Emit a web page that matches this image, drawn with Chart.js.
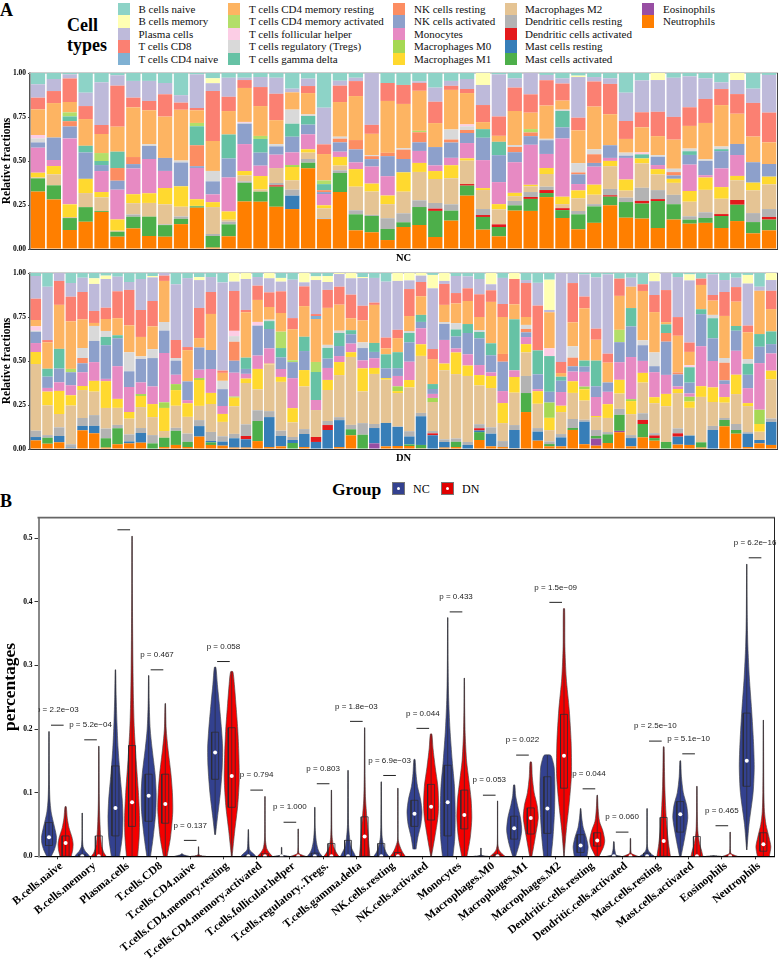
<!DOCTYPE html>
<html>
<head>
<meta charset="utf-8">
<script src="https://cdn.jsdelivr.net/npm/chart.js@4"></script>
<style>
body { margin: 0; background: #fff; width: 780px; height: 963px; position: relative; overflow: hidden; font-family: "Liberation Serif", serif; color: #000; }
canvas { position: absolute; left: 0; }
.txt { position: absolute; white-space: nowrap; line-height: 1; }
.sw { position: absolute; width: 12px; height: 12.6px; }
.key { position: absolute; width: 11px; height: 11px; border: 1px solid #777; top: 482px; }
.key i { position: absolute; left: 4px; top: 4px; width: 3px; height: 3px; border-radius: 50%; background: #fff; }
</style>
</head>
<body>
<div class="txt" style="left:0;top:1px;font-size:18px;font-weight:bold">A</div>
<div class="txt" style="left:67px;top:16px;font-size:18px;font-weight:bold">Cell</div>
<div class="txt" style="left:67px;top:36px;font-size:18px;font-weight:bold">types</div>
<div id="legendA"></div>
<canvas id="chartNC" width="780" height="200" style="top:65px"></canvas>
<canvas id="chartDN" width="780" height="200" style="top:265px"></canvas>
<div class="txt" style="left:0;top:492px;font-size:18px;font-weight:bold">B</div>
<div class="txt" style="left:332px;top:481px;font-size:17.5px;font-weight:bold">Group</div>
<div class="key" style="left:392px;background:#33418f"><i></i></div>
<div class="txt" style="left:413px;top:483px;font-size:12px">NC</div>
<div class="key" style="left:441px;background:#e00000"><i></i></div>
<div class="txt" style="left:462px;top:483px;font-size:12px">DN</div>
<canvas id="chartViolin" width="780" height="458" style="top:505px"></canvas>
<script>
'use strict';
// ---- panel A: legend order, top of the stack first
const cellTypes = ['B cells naive', 'B cells memory', 'Plasma cells', 'T cells CD8', 'T cells CD4 naive',
    'T cells CD4 memory resting', 'T cells CD4 memory activated', 'T cells follicular helper', 'T cells regulatory (Tregs)', 'T cells gamma delta',
    'NK cells resting', 'NK cells activated', 'Monocytes', 'Macrophages M0', 'Macrophages M1',
    'Macrophages M2', 'Dendritic cells resting', 'Dendritic cells activated', 'Mast cells resting', 'Mast cells activated',
    'Eosinophils', 'Neutrophils'];
const cellColours = ['#8dd3c7', '#ffffb3', '#bebada', '#fb8072', '#80b1d3',
    '#fdb462', '#b3de69', '#fccde5', '#d9d9d9', '#66c2a5',
    '#fc8d62', '#8da0cb', '#e78ac3', '#a6d854', '#ffd92f',
    '#e5c494', '#b3b3b3', '#e41a1c', '#377eb8', '#4daf4a',
    '#984ea3', '#ff7f00'];
const fractionTicks = [0, 0.25, 0.5, 0.75, 1];

// NC samples, percent of each bar
const ncNaive = [6.4,3.4,.8,11.2,5.3,1.3,4.5,4.5,5.7,12.5, .8,3,2.7,2.7,2.3,2.7,8.9,3.2,19.7,4.4, 2.7,0,5.7,6.8,4.7,8.3,4.5,3.4,0,.8, 3,0,1.1,3,1.5,2.3,3,11.2,4.2,0, 2.7,1.9,3,5.3,0,8.9,1.1];
const ncMemoryB = [0,0,0,0,0,0,0,0,0,0, 0,2.8,0,0,0,0,0,0,0,0, 0,0,0,0,0,0,0,0,6.8,0, 0,0,0,0,.8,0,0,0,0,4, 0,0,0,0,4,0,0];
const ncPlasma = [7.6,6.8,2.3,7.6,24.2,5.9,9.5,11.4,6.4,4.2, 19.1,4.4,10.8,1.3,5.7,9.1,2.1,4.2,20.8,2.8, 1.9,29.5,0,0,.9,8,2.8,5.7,11.4,23.9, 5.3,12.1,3,3,23.1,2.5,3.2,16.1,18,18, 22.2,17.6,11.7,3.8,8,8.1,21.4];
const ncCd8 = [6.6,6.8,13.4,7.4,5.1,23.3,5.5,5.3,12.7,4, 1.3,28.4,8.1,4.5,10.8,15,0,4,5.5,9.3, 8.5,5.1,10.2,10.8,4.5,12.1,2.3,2.3,9.7,11, 13.3,10.4,14.4,9.7,7.2,14.2,17.2,10.2,8.5,13.8, 12.9,10.6,13.6,9.1,11.2,19.1,16.9];
const ncCd4Naive = [0,0,0,0,0,0,0,0,0,0, 0,0,0,0,0,0,0,0,0,0, 0,0,0,0,0,0,0,0,0,0, 0,0,0,0,0,0,0,0,0,0, 0,0,0,0,0,0,0];
const ncCd4Resting = [14.6,19.5,5.9,15.2,10.8,14.2,28.2,19.3,23.5,28.6, 7.2,17,13.3,19.3,17,13.6,9.8,12.1,15,19.7, 25,12.1,29.5,25.2,22.7,13.6,22.5,17.8,4,3.4, 19.3,9.3,18.9,5.1,18.6,24.2,17.6,7.8,14.2,10.8, 16.5,12.9,20.6,23.5,17.2,14.6,12.3];
const ncCd4Activated = [0,0,2.3,0,4.5,0,0,0,0,0, 1.9,0,0,0,1.7,0,0,0,2.1,0, 0,0,0,0,.8,0,0,0,0,0, 0,1.9,0,0,0,0,0,0,0,0, 0,0,0,0,0,0,0];
const ncFollicular = [1.9,0,0,0,0,0,0,0,0,0, 0,0,0,.5,0,0,0,0,0,0, 0,0,0,0,0,0,0,1.1,0,0, 0,0,0,0,0,0,0,0,1.1,0, 0,0,0,0,0,0,0];
const ncTregs = [2.3,0,0,0,0,0,0,1,0,1.1, 0,5.9,0,.5,0,1.3,8,.9,0,1.1, 0,.6,0,.8,0,0,5.7,2.1,0,0, 1.1,0,.8,.8,5.3,2.8,0,1.7,0,.9, 1.9,1.5,.9,1.5,0,0,0];
const ncGamma = [0,0,2.7,3.8,2.3,9.3,0,0,0,0, 10.8,0,13.6,0,7.8,0,7.4,4.9,3.4,0, 0,0,0,0,0,0,0,0,4.9,7.6, 0,0,0,9.3,0,0,0,0,2.3,0, 0,2.1,0,1.1,0,0,0];
const ncNkResting = [0,0,3,0,0,7.2,4,0,0,0, 11.9,0,0,0,0,0,0,0,1.1,2.1, 5.3,1.7,1.9,5.3,5.7,0,1.7,1.7,0,0, 3,2.1,0,0,1.1,4.9,0,0,0,0, 1.9,0,0,0,0,0,0];
const ncNkActivated = [3,12.7,6.8,15,3.4,5.1,2.5,7.4,7.4,13.4, 1,7.4,10.8,11.6,7.4,4.7,8.9,5.5,1.1,5.3, 7.4,4.2,11.4,7.6,4.9,10.4,8.7,5.7,12.7,15.3, 5.7,4.9,7.8,6.3,5.5,2.1,7.2,1.3,0,4.7, 1.9,5.5,8.1,9.8,6.3,11.6,7.2];
const ncMonocytes = [14.2,3.4,37.5,0,11.9,16.9,14.6,19.5,9.7,0, 17.8,4.4,19.3,15.3,5.9,7.6,7.2,8.5,6.4,3, 3.8,9.7,11,0,6.8,3.2,4.2,8.7,15.9,12.5, 17.4,22.7,8,33.1,3.6,10.2,1.7,12.3,0,2.3, 0,15,1.3,10.6,11.9,0,0];
const ncM0 = [0,0,0,0,0,0,0,0,0,0, 0,0,0,0,0,0,1.1,0,0,0, 0,0,0,0,0,0,0,0,0,0, 0,0,0,0,0,0,0,0,0,0, 0,0,0,0,0,0,0];
const ncM1 = [2.7,4.7,7.2,8.1,3,6.4,5.1,5.5,9.3,11.5, 3.8,2.8,4.7,2.5,7.6,0,7.6,1.9,1.7,4.9, 10,4.5,4.9,11,5.1,4.5,7.4,1.3,1.1,3, 1.9,.9,3.4,4.2,4.5,5.7,3,6.3,2.8,3, 2.3,6.1,7,6.6,2.5,4.4,4.4];
const ncM2 = [.5,6.2,.6,8,7.8,.6,6.4,7.8,11.4,5.5, .2,15.3,1.1,3.4,1.3,8.5,5.3,3.6,5.7,2.7, 13.4,13.3,8,12.3,16.1,13.6,14.8,13.3,10.8,8.5, 2.7,3.2,7.2,2.3,7.2,5.3,12.9,4,13.8,8.9, 6.8,8.3,12.7,8.7,11.2,12.9,14];
const ncDcResting = [0,0,0,0,0,0,1.3,0,.4,1.3, 0,1.1,1.5,.8,0,1.3,3.4,2.1,.4,1.5, 2.3,.6,6.1,5.1,3.8,3.2,3.6,0,3.4,0, 2.5,2.8,1.9,0,1.9,1.3,3.6,2.5,7.4,5.1, 5.3,1.9,3.2,0,0,5.1,4.5];
const ncDcActivated = [0,0,0,0,0,0,0,0,0,0, 0,0,0,0,0,.8,0,0,0,0, 0,0,0,0,0,1.3,0,.9,1.1,1.5, 0,1.1,1.7,1.1,0,0,.8,0,1.5,1.1, 0,0,0,1.1,2.7,0,1.5];
const ncMastResting = [0,0,0,0,0,0,0,0,0,0, 0,0,0,0,0,0,7.6,0,0,0, 0,0,0,0,0,0,0,0,0,0, 0,0,0,0,0,0,0,0,0,0, 0,0,0,0,0,0,0];
const ncMastActivated = [7.5,8,6.8,8.3,.5,2.8,6.6,11,6.6,3, .8,6.6,6.8,10.6,5.7,11.4,0,3.2,0,10.8, 9.1,9.3,6.3,2.7,10.2,14.8,5.7,5.7,7.2,5.3, 3,6.8,2.3,4.5,8.5,9.3,4.9,8.9,8.5,15.3, 8.7,2.3,2.8,6.8,9.3,6.4,6.1];
const ncEosinophils = [0,0,0,0,0,0,0,0,0,0, 0,0,0,0,0,0,0,0,0,0, 0,0,0,0,0,0,0,0,0,0, 0,0,0,0,0,0,0,0,0,0, 0,0,0,0,0,0,0];
const ncNeutrophils = [32.6,28,10.8,15.5,21,7,11.7,7.4,7,14, 23.5,.8,7.2,27,26.9,24,22.7,45.8,17,32.4, 10.6,9.5,5.1,12.5,13.6,6.8,16.1,30.3,11,7.2, 21.8,21.6,29.5,17.6,11.2,14.8,24.8,17.8,17.2,11.9, 16.7,14.4,14.8,11.9,15.9,8.9,10.6];

// DN samples, percent of each bar
const dnNaive = [1.7,7.8,0,5.7,2.7,3,1.5,2.1,5.1,3.4, 1.7,0,6.4,2.8,2.3,2.3,5.3,0,0,2.3, 0,2.8,3.8,0,1.9,1.7,0,0,2.3,2.8, 4.9,0,0,0,1.1,0,1.7,1.9,3.4,0, 2.8,0,4,5.3,3.8,0,0,.8,2.5,.8, 3.2,2.7,6.4,0,0,2.3,.8,3.2,.8,4, 2.7,1.1,7.8,0];
const dnMemoryB = [0,0,0,0,0,3.2,1.9,0,0,0, .8,0,0,0,1.7,0,0,4.9,3.4,0, 3,2.1,0,5.3,2.1,3.4,.6,3,.6,0, 0,4.5,4.2,1.5,7.6,4.5,0,0,0,6.4, 0,3.4,0,0,17.2,0,0,0,0,0, 0,0,0,4.7,0,0,3.4,0,0,0, 0,4.9,0,4];
const dnPlasma = [12.9,30.3,4.5,7.8,8.1,15.3,16.3,8.3,4.5,17.6, 13.4,1.5,31.6,37.5,15.7,8.5,49.8,5.3,17.6,4.9, 8,5.5,21.8,2.3,19.3,4.5,7.2,9.3,15.7,14, 31.8,27.8,4.9,3.6,34.5,1.7,9.7,6.8,8.7,3.4, 14.8,0,1.7,12.3,1.3,50.6,5.7,12.5,29.2,44.9, 0,5.1,0,7.8,9.7,22.7,35.2,0,11.7,6.8, 5.3,23.9,2.3,6.1];
const dnCd8 = [12.1,1.3,13.6,14,15.5,6.8,6.4,15.3,20.1,15.3, 14.4,3,10.2,1.7,17,12.5,1.3,22.7,1.3,8.1, 8.3,12.3,6.3,11.2,1.1,10.2,10.2,13.4,8.3,1.3, 6.1,4.7,15.3,8.1,5.7,11.9,5.9,7.2,12.9,6.6, 7.4,14.4,19.3,24.2,0,6.3,22.3,6.6,6.3,5.1, 9.8,0,3.8,9.7,18.2,10.6,5.3,3.6,3.2,13.6, 8.3,3.8,0,10.4];
const dnCd4Naive = [0,0,0,0,0,0,0,0,0,0, 0,0,0,0,0,0,0,0,0,0, 0,0,0,0,1.7,0,0,0,0,0, 0,0,0,0,0,0,0,0,0,0, 0,0,0,0,0,0,0,0,0,0, 0,0,0,0,0,0,0,0,0,0, 0,0,0,0];
const dnCd4Resting = [3.6,15,25,27.1,16.3,1.7,6.8,9.7,15.3,11, 12.9,23.3,0,17,5.3,20.5,4.5,0,25.8,12.5, 7.2,10.6,17.6,17.4,24.4,21,14.8,6.8,12.5,21.6, 3.4,8,8.5,10.6,14.2,9.7,11.2,13.1,7.4,23.5, 21,8.5,4.5,0,20.5,2.1,13.6,29.5,11.9,11.2, 19.3,12.1,28,22.9,1.3,20.8,7.6,13.8,8.1,23.9, 13.8,15.2,24.6,12.7];
const dnCd4Activated = [0,0,0,1.9,0,0,0,0,0,0, 0,0,0,0,0,0,0,0,0,0, 0,9.3,1.1,0,5.7,0,0,0,0,0, 0,0,0,0,0,0,0,0,0,0, 0,0,0,0,0,0,0,0,0,0, 7,0,0,0,0,0,0,0,0,0, 0,0,0,0];
const dnFollicular = [2.5,0,0,0,0,0,0,0,0,0, 0,0,0,0,0,0,0,3,0,2.1, 0,0,0,0,0,0,0,0,0,0, 0,0,0,0,0,0,0,0,0,0, 0,0,0,0,4.4,0,0,0,0,0, 0,0,0,0,0,0,1.1,0,0,0, 0,0,0,0];
const dnTregs = [.6,0,0,0,5.7,8.5,3.4,0,10.8,1.5, 5.1,4.9,1.5,0,0,0,4.7,3.2,0,0, .8,0,0,0,0,1.7,1.3,0,3.2,0, 0,0,1.1,0,0,1.1,3.6,0,1.1,0, 0,0,2.3,0,0,0,6.4,0,0,0, 0,0,2.8,7.8,0,0,0,0,1.9,2.7, 0,2.7,0,0];
const dnGamma = [0,4.5,11.2,0,0,0,4.7,1.7,0,0, 0,0,0,0,0,0,0,0,6.4,0, 4.5,5.3,0,8.1,15.9,6.1,7.4,2.3,0,5.1, 8,9.1,5.3,4,2.8,0,4,5.1,3.6,6.8, 0,29,0,12.9,20.3,2.3,0,3.4,14.6,0, 0,10.4,0,0,4.9,0,8.7,2.8,11.4,0, 2.7,6.3,7.2,7.2];
const dnNkResting = [0,0,0,0,3,0,0,0,0,0, 0,0,0,0,0,0,0,10.8,0,0, 0,0,0,0,0,0,0,0,0,0, 0,0,0,0,0,0,0,0,0,0, 4.4,0,1.9,0,0,0,4.9,0,0,0, 0,0,0,0,4.9,1.1,0,0,0,10, 0,0,0,0];
const dnNkActivated = [6.4,6.4,7.8,7.4,5.1,12,19.1,15.9,8.9,13.3, 16.1,12.7,8,10.2,12.5,10.8,9.5,6.8,2.8,17, 11,6.6,9.1,10.8,0,5.3,5.7,5.3,7,3.6, 5.5,4.4,11,3.6,2.8,9.1,6.8,12.1,15.2,9.7, 16.7,0,2.7,8,6.1,6.4,3,3,6.1,5.3, 11.4,17.4,8.9,3.4,18.9,6.8,6.1,18.2,12.9,2.1, 11.4,7.6,9.3,5.3];
const dnMonocytes = [5.1,2.1,4.9,5.7,7.8,10.6,1.3,18.6,14.2,6.6, 10,28,5.3,1.7,4.7,13.6,4.5,13.6,2.7,7.6, 8.7,4.5,17,0,5.7,6.8,3.4,4.9,4.5,5.5, 0,5.9,10.4,9.1,2.3,13.4,2.3,6.4,5.7,2.1, 6.8,3.8,4,1.1,0,7.8,5.5,8.3,10.8,7, 10,23.9,6.8,14.2,10.8,1.5,1.9,22.7,15,7.4, 13.6,8.5,26.5,9.8];
const dnM0 = [0,0,0,0,0,0,0,0,0,1.1, 0,3.2,3.4,0,1.1,0,0,.6,0,0, 0,0,0,0,0,0,0,0,0,0, 0,2.7,0,0,2.3,0,0,0,0,0, 0,0,0,0,8.7,0,0,1.5,0,0, 0,1.1,0,0,0,0,2.7,0,0,0, 0,0,8.1,0];
const dnM1 = [6.8,7.8,13.1,5.9,2.3,6.1,15.2,5.1,3.8,6.3, 7.4,13.1,8.9,7.4,14.6,6.3,4.5,4.9,2.5,11.6, .4,2.8,8.1,9.3,0,5.7,7.4,2.7,13.1,3.4, .9,1.1,4.2,6.6,0,3.8,12.3,5.9,5.9,6.8, 11.4,8.9,4.7,6.8,7,3.6,6.6,6.4,.6,7.8, 7.8,7.4,5.5,3.4,7,2.3,3.6,6.1,8.3,3.2, 11,1.7,4.4,4.9];
const dnM2 = [37.9,16.9,7.6,22,15.9,13.3,11.7,9.7,8.9,11.9, 10.2,3.8,12.5,9.1,8,15.9,8.1,15.7,23.5,11.9, 26.5,27.7,8.3,24.2,15.3,17.6,23.9,38.6,18,28.4, 24.6,18.9,24.8,32.4,16.5,39.2,36.6,37.5,22,22.3, 10.2,18.4,13.4,13.1,6.4,12.5,14.8,10.8,7.4,8, 8.7,11.9,17.4,17,20.3,20,15.7,25.8,13.6,8.7, 17,14.8,4.7,22.3];
const dnDcResting = [3.6,1.5,4.9,1.9,4.5,6.1,5.5,1.9,4,2.8, 4.7,0,1.7,4.5,3.4,5.1,3,2.5,6.6,6.1, 3.4,3,1.7,2.8,0,2.3,1.7,2.5,6.6,2.3, 0,.4,3,1.9,1.3,1.5,1.9,1.7,2.3,3.6, 3.4,2.8,9.7,1.9,1.5,1.9,5.1,1.1,3.4,1.3, 3.4,1.7,3.8,1.3,0,2.8,0,0,2.3,1.1, 3.4,.9,0,1.9];
const dnDcActivated = [0,0,0,0,0,0,0,0,0,0, 0,0,0,0,0,0,0,0,1.9,0, 0,0,0,0,2.8,2.8,0,0,0,0, 0,0,0,0,1.1,0,0,0,1.3,0, 0,0,0,0,0,0,0,0,0,0, 0,0,2.3,1.5,0,1.9,0,0,0,0, 0,0,0,0];
const dnMastResting = [1.9,0,3.6,.4,2.5,4.2,0,0,1.1,5.5, 0,0,0,0,5.9,.8,2.3,5.3,4.7,0, 17,5.9,1.7,7.4,4,10.8,15.3,0,0,8.7, 13.3,10.8,4.5,16.3,7.8,3.2,0,2.3,.9,7.2, 0,10.4,0,4.9,0,5.1,0,12.7,0,0, 0,4.7,0,0,0,4.5,5.3,0,10.8,0, 0,7.6,1.9,13.1];
const dnMastActivated = [0,3.4,0,0,0,0,5.3,9.1,0,0, 3.2,5.3,8,2.8,0,1.5,0,0,0,11.4, 0,0,3.4,0,0,0,0,3.4,8.1,0, 0,0,.9,1.9,0,0,3,0,4.5,0, 0,0,10.8,0,1.3,0,1.1,0,1.5,4.9, 9.1,0,7.6,1.5,4,0,0,3,0,3.6, 2.1,0,0,0];
const dnEosinophils = [0,0,0,0,0,0,0,0,0,0, 0,0,0,0,0,0,0,0,0,0, 0,0,0,0,0,0,0,0,0,3.2, 0,0,0,0,0,0,0,0,0,0, 0,0,0,0,0,0,0,0,4,0, .8,0,0,0,0,0,0,0,0,0, 0,0,0,0];
const dnNeutrophils = [4.9,3,3.8,.4,10.6,8.9,.8,2.7,3.2,3.6, 0,1.1,2.3,1.1,7,2.3,1.9,.8,.8,4.5, 1.1,1.5,0,1.1,0,0,1.1,7.8,0,0, 1.5,1.7,1.7,.4,0,.8,1.1,0,5.1,1.5, 1.1,.4,21,4.5,1.5,1.5,10.8,2.7,1.9,3.4, 9.5,1.5,6.6,4.7,0,2.5,2.3,.8,0,12.9, 8.7,1.1,3.2,2.3];

// ---- panel B: one profile per violin, [percentage, relative density]
const ncBNaiveV = [[0,.3],[.01,.7],[.02,.95],[.03,1],[.04,.85],[.055,.55],[.07,.28],[.09,.12],[.12,.05],[.196,.02]];
const dnBNaiveV = [[0,.75],[.01,.95],[.02,1],[.03,.85],[.045,.45],[.06,.22],[.078,.08]];
const ncBMemoryV = [[0,1],[.003,.8],[.008,.4],[.015,.12],[.03,.03],[.068,.02]];
const dnBMemoryV = [[0,1],[.005,.7],[.015,.4],[.03,.25],[.055,.14],[.09,.06],[.173,.02]];
const ncPlasmaV = [[0,.55],[.03,.9],[.06,1],[.09,.9],[.13,.6],[.17,.35],[.21,.2],[.25,.1],[.293,.03]];
const dnPlasmaV = [[0,.75],[.03,.95],[.06,1],[.1,.85],[.15,.55],[.2,.3],[.25,.18],[.3,.12],[.35,.08],[.42,.04],[.503,.02]];
const ncCd8V = [[0,.25],[.03,.6],[.07,.95],[.1,1],[.13,.85],[.17,.45],[.2,.2],[.24,.07],[.284,.02]];
const dnCd8V = [[0,.25],[.03,.7],[.07,1],[.1,.95],[.13,.75],[.17,.35],[.2,.12],[.24,.03]];
const ncCd4NaiveV = [[0,1],[.002,.3],[.004,.02]];
const dnCd4NaiveV = [[0,1],[.002,.1],[.015,.02]];
const ncCd4RestingV = [[.034,.05],[.06,.3],[.1,.7],[.14,.95],[.17,1],[.2,.85],[.24,.55],[.27,.3],[.297,.1]];
const dnCd4RestingV = [[0,.05],[.04,.4],[.08,.8],[.12,1],[.16,.95],[.2,.8],[.24,.55],[.27,.35],[.29,.15]];
const ncCd4ActivatedV = [[0,1],[.004,.7],[.01,.18],[.02,.08],[.042,.02]];
const dnCd4ActivatedV = [[0,1],[.005,.6],[.012,.25],[.025,.07],[.05,.03],[.094,.02]];
const ncFollicularV = [[0,1],[.0015,.2],[.003,.05],[.014,.03]];
const dnFollicularV = [[0,1],[.002,.5],[.005,.08],[.043,.02]];
const ncTregsV = [[0,1],[.005,.65],[.012,.4],[.025,.18],[.045,.05],[.077,.02]];
const dnTregsV = [[0,1],[.005,.7],[.015,.3],[.03,.1],[.05,.05],[.104,.02]];
const ncGammaV = [[0,1],[.005,.8],[.015,.4],[.03,.2],[.05,.07],[.135,.02]];
const dnGammaV = [[0,.7],[.02,.55],[.04,.45],[.06,.3],[.09,.12],[.13,.05],[.202,.02]];
const ncNkRestingV = [[0,1],[.005,.7],[.015,.35],[.03,.12],[.05,.05],[.117,.02]];
const dnNkRestingV = [[0,1],[.005,.7],[.012,.4],[.025,.05],[.05,.02],[.107,.015]];
const ncNkActivatedV = [[.011,.2],[.03,.45],[.05,.85],[.07,1],[.09,.8],[.11,.4],[.13,.2],[.152,.08]];
const dnNkActivatedV = [[0,.05],[.03,.5],[.06,.9],[.08,1],[.11,.9],[.14,.55],[.17,.25],[.192,.1]];
const ncMonocytesV = [[0,.7],[.03,.95],[.07,1],[.11,.9],[.15,.6],[.2,.3],[.25,.12],[.3,.05],[.375,.015]];
const dnMonocytesV = [[0,.35],[.03,.8],[.06,1],[.09,.9],[.12,.6],[.15,.3],[.19,.12],[.23,.05],[.28,.02]];
const ncM0V = [[0,1],[.0015,.1],[.013,.02]];
const dnM0V = [[0,1],[.004,.6],[.01,.2],[.02,.04],[.087,.015]];
const ncM1V = [[0,.2],[.02,.7],[.04,1],[.06,.85],[.08,.45],[.095,.2],[.112,.08]];
const dnM1V = [[0,.15],[.03,.6],[.06,1],[.08,.85],[.1,.45],[.125,.2],[.148,.1]];
const ncM2V = [[0,.5],[.03,.75],[.07,.95],[.11,1],[.14,.9],[.155,.6],[.159,.4]];
const dnM2V = [[0,.02],[.04,.3],[.09,.75],[.13,1],[.18,.95],[.23,.7],[.28,.3],[.33,.12],[.389,.08]];
const ncDcRestingV = [[0,.85],[.015,1],[.03,.75],[.045,.35],[.06,.15],[.075,.03]];
const dnDcRestingV = [[0,.25],[.015,.85],[.025,1],[.04,.75],[.055,.3],[.075,.12],[.096,.03]];
const ncDcActivatedV = [[0,1],[.002,.3],[.006,.2],[.012,.1],[.023,.03]];
const dnDcActivatedV = [[0,1],[.002,.55],[.005,.1],[.028,.03]];
const ncMastRestingV = [[0,1],[.004,.5],[.01,.15],[.02,.03],[.075,.02]];
const dnMastRestingV = [[0,.9],[.02,.65],[.05,.4],[.08,.25],[.11,.15],[.14,.1],[.172,.05]];
const ncMastActivatedV = [[0,.1],[.03,.6],[.06,1],[.08,.85],[.1,.4],[.125,.15],[.15,.05]];
const dnMastActivatedV = [[0,.8],[.01,.6],[.02,.35],[.04,.12],[.07,.05],[.11,.02]];
const ncEosinophilsV = [[0,1],[.001,.05]];
const dnEosinophilsV = [[0,1],[.002,.5],[.005,.08],[.038,.02]];
const ncNeutrophilsV = [[.01,.02],[.05,.3],[.1,.85],[.14,1],[.18,.9],[.23,.65],[.28,.35],[.33,.15],[.38,.06],[.459,.015]];
const dnNeutrophilsV = [[0,.8],[.015,1],[.03,.75],[.05,.35],[.07,.15],[.1,.07],[.15,.04],[.214,.015]];

const violinCategories = ['B.cells.naive', 'B.cells.memory', 'Plasma.cells', 'T.cells.CD8', 'T.cells.CD4.naive',
    'T.cells.CD4.memory.resting', 'T.cells.CD4.memory.activated', 'T.cells.follicular.helper', 'T.cells.regulatory..Tregs.', 'T.cells.gamma.delta',
    'NK.cells.resting', 'NK.cells.activated', 'Monocytes', 'Macrophages.M0', 'Macrophages.M1',
    'Macrophages.M2', 'Dendritic.cells.resting', 'Dendritic.cells.activated', 'Mast.cells.resting', 'Mast.cells.activated',
    'Eosinophils', 'Neutrophils'];
const ncMedian = [.03,0,.076,.095,null,.163,0,0,0,0,0,.067,.085,null,.044,.075,.017,0,0,.066,null,.15];
const ncQ1 = [.017,0,.032,.055,0,.121,0,0,0,0,0,.047,.032,0,.027,.036,.006,0,0,.038,0,.11];
const ncQ3 = [.053,.003,.142,.129,0,.195,.002,0,.005,.025,.02,.088,.143,0,.063,.125,.034,0,.005,.086,0,.225];
const dnMedian = [.021,0,.085,.082,null,.126,0,0,0,.031,0,.078,.065,0,.06,.158,.025,0,.024,0,0,.019];
const dnQ1 = [0,0,.047,.052,0,.077,0,0,0,0,0,.057,.043,0,.035,.107,.016,0,0,0,0,.008];
const dnQ3 = [.032,.032,.174,.129,0,.202,.004,0,.02,.062,.006,.113,.104,.003,.076,.223,.037,0,.061,.031,0,.037];
const pLabels = ['p = 2.2e\u221203', 'p = 5.2e\u221204', '', 'p = 0.467', 'p = 0.137', 'p = 0.058', 'p = 0.794', 'p = 1.000', 'p = 0.803', 'p = 1.8e\u221203', 'p = 6.9e\u221203',
    'p = 0.044', 'p = 0.433', 'p = 0.053', 'p = 0.022', 'p = 1.5e\u221209', 'p = 0.044', 'p = 0.060', 'p = 2.5e\u221210', 'p = 5.1e\u221210', 'p = 0.465', 'p = 6.2e\u221216'];
const bracketLevels = [.206,.183,.513,.293,.025,.306,.104,.0535,.114,.212,.127,.201,.384,.096,.159,.399,.106,.038,.181,.161,.048,.469];
const percentTicks = [0, 0.1, 0.2, 0.3, 0.4, 0.5];

const ncSeries = [ncNaive, ncMemoryB, ncPlasma, ncCd8, ncCd4Naive, ncCd4Resting, ncCd4Activated, ncFollicular, ncTregs, ncGamma, ncNkResting, ncNkActivated, ncMonocytes, ncM0, ncM1, ncM2, ncDcResting, ncDcActivated, ncMastResting, ncMastActivated, ncEosinophils, ncNeutrophils];
const dnSeries = [dnNaive, dnMemoryB, dnPlasma, dnCd8, dnCd4Naive, dnCd4Resting, dnCd4Activated, dnFollicular, dnTregs, dnGamma, dnNkResting, dnNkActivated, dnMonocytes, dnM0, dnM1, dnM2, dnDcResting, dnDcActivated, dnMastResting, dnMastActivated, dnEosinophils, dnNeutrophils];
const ncViolins = [ncBNaiveV, ncBMemoryV, ncPlasmaV, ncCd8V, ncCd4NaiveV, ncCd4RestingV, ncCd4ActivatedV, ncFollicularV, ncTregsV, ncGammaV, ncNkRestingV, ncNkActivatedV, ncMonocytesV, ncM0V, ncM1V, ncM2V, ncDcRestingV, ncDcActivatedV, ncMastRestingV, ncMastActivatedV, ncEosinophilsV, ncNeutrophilsV];
const dnViolins = [dnBNaiveV, dnBMemoryV, dnPlasmaV, dnCd8V, dnCd4NaiveV, dnCd4RestingV, dnCd4ActivatedV, dnFollicularV, dnTregsV, dnGammaV, dnNkRestingV, dnNkActivatedV, dnMonocytesV, dnM0V, dnM1V, dnM2V, dnDcRestingV, dnDcActivatedV, dnMastRestingV, dnMastActivatedV, dnEosinophilsV, dnNeutrophilsV];

const SERIF = '"Liberation Serif", serif';

// legend of panel A is laid out by hand, the library legend cannot do columns like these
const legendColumns = [[117.5, 138.5], [227.5, 249], [392.5, 414], [505, 525], [641.5, 663]];
const legendA = document.getElementById('legendA');
cellTypes.forEach((name, i) => {
    const col = legendColumns[Math.floor(i / 5)];
    const top = 2.5 + (i % 5) * 12.6;
    const sw = document.createElement('div');
    sw.className = 'sw';
    sw.style.cssText = `left:${col[0]}px;top:${top}px;background:${cellColours[i]}`;
    legendA.appendChild(sw);
    const t = document.createElement('div');
    t.className = 'txt';
    t.style.cssText = `left:${col[1]}px;top:${top + 1}px;font-size:11px;color:#111`;
    t.textContent = name;
    legendA.appendChild(t);
});

// lines round the plot area
const framePlugin = {
    id: 'frame',
    beforeDatasetsDraw(chart, args, opts) {
        const a = chart.chartArea;
        const ctx = chart.ctx;
        ctx.save();
        ctx.lineWidth = opts.top.width;
        ctx.strokeStyle = opts.top.color;
        ctx.beginPath();
        ctx.moveTo(a.left - 1, a.top);
        ctx.lineTo(a.right + 1, a.top);
        ctx.stroke();
        ctx.lineWidth = 1;
        ctx.strokeStyle = opts.rightColor;
        ctx.beginPath();
        ctx.moveTo(a.right + .5, a.top);
        ctx.lineTo(a.right + .5, a.bottom);
        ctx.stroke();
        ctx.restore();
    }
};

function createStack(canvasId, series, groupName) {
    const count = series[0].length;
    const totals = [];
    for (let i = 0; i < count; i++) {
        totals.push(series.reduce((sum, s) => sum + s[i], 0));
    }
    const datasets = cellTypes.map((name, k) => ({
        label: name,
        data: series[k].map((v, i) => v / totals[i]),
        backgroundColor: cellColours[k],
        borderWidth: 0,
        barPercentage: 0.9,
        categoryPercentage: 1
    })).reverse();

    new Chart(document.getElementById(canvasId), {
        type: 'bar',
        data: { labels: series[0].map((v, i) => i + 1), datasets: datasets },
        options: {
            responsive: false,
            animation: false,
            layout: { padding: { top: 8, right: 3 } },
            plugins: {
                legend: { display: false },
                tooltip: { enabled: false },
                frame: { top: { width: 1.5, color: '#bdbdbd' }, rightColor: '#444' }
            },
            scales: {
                x: {
                    stacked: true,
                    afterFit(scale) { scale.height = 16; },
                    grid: { display: false },
                    border: { color: '#333', width: 1 },
                    ticks: { display: false },
                    title: { display: true, text: groupName, color: '#000', padding: 0, font: { family: SERIF, size: 10.5, weight: 'bold' } }
                },
                y: {
                    stacked: true,
                    min: 0,
                    max: 1,
                    afterFit(scale) { scale.width = 30; },
                    afterBuildTicks(scale) { scale.ticks = fractionTicks.map(v => ({ value: v })); },
                    grid: { drawOnChartArea: false, tickLength: 2, color: '#444' },
                    border: { color: '#555', width: 1.6 },
                    ticks: { padding: 2, color: '#000', font: { family: SERIF, size: 7.5, weight: 'bold' }, callback: v => v.toFixed(2) },
                    title: { display: true, text: 'Relative fractions', color: '#000', padding: 0, font: { family: SERIF, size: 11.5, weight: 'bold' } }
                }
            }
        },
        plugins: [framePlugin]
    });
}

createStack('chartNC', ncSeries, 'NC');
createStack('chartDN', dnSeries, 'DN');

// p value text above each bracket, cut off by the plot area like the brackets
const pValuePlugin = {
    id: 'pValues',
    afterDatasetsDraw(chart) {
        const a = chart.chartArea;
        const ctx = chart.ctx;
        ctx.save();
        ctx.beginPath();
        ctx.rect(a.left, a.top, a.right - a.left + 4, a.bottom - a.top);
        ctx.clip();
        ctx.font = '8px "Liberation Sans", sans-serif';
        ctx.fillStyle = '#222';
        ctx.textAlign = 'center';
        ctx.textBaseline = 'middle';
        pLabels.forEach((label, i) => {
            ctx.fillText(label, chart.scales.x.getPixelForValue(i + 1), chart.scales.y.getPixelForValue(bracketLevels[i]) - 15);
        });
        ctx.restore();
    }
};

function violinDatasets(profile, centre, q1, q3, median, fillColour) {
    const maxHalf = 0.225;
    const boxHalf = 0.105;
    const left = profile.map(p => ({ x: centre - p[1] * maxHalf, y: p[0] }));
    const right = profile.map(p => ({ x: centre + p[1] * maxHalf, y: p[0] })).reverse();
    const low = profile[0][0];
    const high = profile[profile.length - 1][0];
    const line = 'rgba(45,45,50,0.85)';
    const sets = [
        { data: left.concat(right), showLine: true, fill: 'shape', tension: 0.25, backgroundColor: fillColour, borderColor: 'rgba(70,70,70,0.8)', borderWidth: 0.8, pointRadius: 0 },
        { data: [{ x: centre, y: low }, { x: centre, y: high }], showLine: true, borderColor: line, borderWidth: 0.8, pointRadius: 0 },
        { data: [{ x: centre - boxHalf, y: q1 }, { x: centre + boxHalf, y: q1 }, { x: centre + boxHalf, y: q3 }, { x: centre - boxHalf, y: q3 }, { x: centre - boxHalf, y: q1 }], showLine: true, borderColor: line, borderWidth: 0.9, pointRadius: 0 }
    ];
    if (median !== null) {
        sets.push({ data: [{ x: centre, y: median }], pointRadius: 2, pointBackgroundColor: '#fff', pointBorderWidth: 0 });
    }
    return sets;
}

function createViolins() {
    const datasets = [];
    violinCategories.forEach((name, i) => {
        const tick = i + 1;
        datasets.push(...violinDatasets(ncViolins[i], tick - 0.25, ncQ1[i], ncQ3[i], ncMedian[i], '#33418f'));
        datasets.push(...violinDatasets(dnViolins[i], tick + 0.25, dnQ1[i], dnQ3[i], dnMedian[i], '#f50000'));
        datasets.push({ data: [{ x: tick - 0.19, y: bracketLevels[i] }, { x: tick + 0.19, y: bracketLevels[i] }], showLine: true, borderColor: '#222', borderWidth: 1, pointRadius: 0 });
    });
    // the library paints the first dataset last, the white dots have to end up on top
    datasets.reverse();

    new Chart(document.getElementById('chartViolin'), {
        type: 'scatter',
        data: { datasets: datasets },
        options: {
            responsive: false,
            animation: false,
            layout: { padding: { top: 12.7, right: 6 } },
            plugins: {
                legend: { display: false },
                tooltip: { enabled: false },
                frame: { top: { width: 1.8, color: '#666' }, rightColor: '#222' }
            },
            scales: {
                x: {
                    type: 'linear',
                    min: 0.434,
                    max: 22.57,
                    afterFit(scale) { scale.height = 106.7; },
                    afterBuildTicks(scale) { scale.ticks = violinCategories.map((c, i) => ({ value: i + 1 })); },
                    grid: { drawOnChartArea: false, tickLength: 3, color: '#333' },
                    border: { color: '#000', width: 1.2 },
                    ticks: { autoSkip: false, minRotation: 39, maxRotation: 39, padding: 0, labelOffset: 4, color: '#000', font: { family: SERIF, size: 11.5, weight: 'bold' }, callback: v => violinCategories[v - 1] }
                },
                y: {
                    min: 0,
                    max: 0.532,
                    afterFit(scale) { scale.width = 38.5; },
                    afterBuildTicks(scale) { scale.ticks = percentTicks.map(v => ({ value: v })); },
                    grid: { drawOnChartArea: false, tickLength: 4, color: '#333' },
                    border: { color: '#888', width: 2 },
                    ticks: { padding: 2, color: '#000', font: { family: SERIF, size: 7.5, weight: 'bold' }, callback: v => v.toFixed(1) },
                    title: { display: true, text: 'percentages', color: '#000', padding: 0, font: { family: SERIF, size: 17.5, weight: 'bold' } }
                }
            }
        },
        plugins: [framePlugin, pValuePlugin]
    });
}

createViolins();
</script>
</body>
</html>
